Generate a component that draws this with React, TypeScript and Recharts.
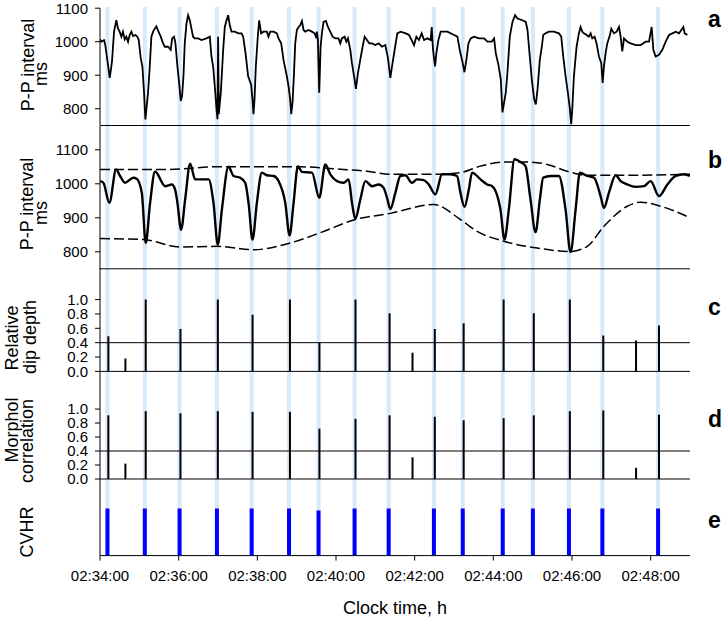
import React from 'react';
import { ComposedChart, Line, Bar, XAxis, YAxis, ReferenceLine } from 'recharts';

// ---------- data (time in seconds after 02:34:00) ----------
const xTicks = [0, 120, 240, 360, 480, 600, 720, 840];

const cvhrTimes = [12, 69, 122, 179, 232, 289, 334, 389, 441, 510, 554, 615, 661, 716, 767, 852];
const cvhrHeight = [1, 1, 1, 1, 1, 1, 0.96, 1, 1, 1, 1, 1, 1, 1, 1, 1];

const eventTimes = [12, 38, 69, 122, 179, 232, 289, 334, 389, 441, 476, 510, 554, 615, 661, 716, 767, 817, 852];
const dipDepth = [0.49, 0.18, 1.0, 0.59, 1.0, 0.79, 1.0, 0.4, 1.0, 0.81, 0.26, 0.59, 0.67, 1.0, 0.81, 1.0, 0.5, 0.43, 0.64];
const morphCorr = [0.91, 0.22, 0.97, 0.94, 0.97, 0.96, 0.96, 0.72, 0.86, 0.91, 0.31, 0.89, 0.84, 0.87, 0.91, 0.97, 0.98, 0.16, 0.92];

const rawT = [
  0, 2, 6.1, 8.1, 12.2, 14.8, 16.3, 18.3, 21.4, 24.9, 27.5, 30, 32.6, 35.1, 37.7, 40.2, 42.8, 45.3, 47.9, 50.4, 54, 57, 59.1,
  62.1, 64.7, 67.2, 69.2, 70.8, 73.3, 75.9, 78.4, 81, 83.5, 86, 88.6, 92.7, 96.2, 98.8, 103.9, 107.9, 110, 113, 115.1, 118.1,
  120.7, 123.2, 125.2, 127.3, 129.3, 131.9, 134.4, 137, 139.5, 142, 144.6, 149.7, 154.8, 162.4, 167.5, 170, 172.6, 175.1, 177.7,
  179.2, 180.2, 181.2, 184.3, 187.9, 190.4, 193, 195.5, 198, 200.6, 205.7, 210.8, 215.9, 218.4, 222, 226,
  230.6, 232.6, 234.1, 235.7, 237.7, 240.7, 242.8, 245.8, 249.4, 254.5, 257, 259.6, 264.7, 269.8, 272.3, 276.4, 279.9, 282.5,
  285, 287.6, 290.1, 291.7, 293.7, 295.7, 297.8, 300.3, 302.9, 305.4, 308, 310.5, 313, 318.1, 323.2, 327.3, 329.3, 330.9, 332.4,
  334.4, 336.5, 338.5, 341, 344.6, 347.7, 351.2, 354.8, 358.9, 363.9, 366.5, 369, 373.1, 375.7, 378.2, 381.8, 384.3, 388.4,
  390.4, 393.5, 397, 400.6, 403.7, 407.2, 410.8, 414.9, 419.9, 425, 430.1, 435.2, 439.3, 442.9, 445.4, 449.5,
  453.5, 458.6, 466.3, 471.4, 475.4, 479, 482.6, 486.6, 490.7, 494.3, 499.4, 504.4, 506, 508, 511.1, 513.1, 516.2, 519.7, 529.9,
  540.1, 545.2, 548.7, 552.8, 555.9, 558.9, 562, 565.5, 570.6, 578.3, 585.9, 591, 597.6, 601.2, 603.7, 607.8, 611.4, 613.9,
  616.4, 619, 621.5, 625.1, 629.2, 633.2, 636.8, 644.4, 649.5, 652.1, 655.6, 658.7, 662.3, 664.8, 667.4, 670.9, 674,
  676.1, 679.6, 684.7, 692.4, 700, 703.6, 706.6, 710.2, 713.7, 716.8, 718.8, 720.4, 722.9, 727, 730.5, 733.1, 735.6, 738.2,
  742.3, 745.8, 748.4, 750.9, 754.5, 757.5, 761.1, 764.7, 766.7, 768.7, 771.3, 773.8, 777.9, 779.9, 784, 788.1, 791.6, 794.2,
  796.7, 799.3, 804.4, 809.5, 817.1, 824.7, 832.4, 837.5, 841.5, 844.1, 847.6, 852.7, 857.8, 862.9, 868, 873.1, 878.2, 883.3,
  889.9, 891.9, 896,
];
const rawV = [
  1007, 1000, 1005, 990, 931, 892, 912, 941, 1030, 1064, 1039, 1030, 1015, 1030, 1007, 1015, 1000, 1020, 1030, 1017, 1020, 1015, 1005,
  951, 926, 848, 768, 799, 848, 926, 1015, 1030, 1039, 1046, 1033, 1015, 995, 985, 985, 976, 1010, 1015, 995, 926,
  877, 823, 838, 897, 995, 1054, 1079, 1064, 1039, 1015, 1010, 1010, 1005, 1010, 1015, 956, 926, 867, 799,
  769, 1015, 784, 848, 976, 1044, 1064, 1079, 1049, 1030, 1030, 1025, 1025, 1015, 966, 897,
  872, 828, 784, 828, 926, 1015, 1064, 1025, 1030, 1030, 1015, 1030, 1030, 1025, 1010, 995, 946, 921,
  897, 867, 828, 784, 818, 897, 995, 1035, 1044, 1049, 1062, 1035, 1030, 1035, 1030, 1025, 1015, 1030, 1005,
  848, 985, 1025, 1059, 1062, 1044, 1030, 1015, 1010, 1010, 995, 1010, 1015, 1000, 1010, 976, 936, 887,
  859, 907, 946, 985, 1015, 1005, 995, 995, 990, 995, 985, 990, 951, 892, 926, 976,
  1025, 1030, 1025, 1020, 1005, 990, 1015, 1005, 1025, 1005, 1010, 1005, 1044, 976, 926, 966, 1005, 1030, 1030,
  1020, 1015, 976, 941, 909, 946, 995, 1010, 1015, 1010, 1010, 1000, 1000, 1010, 966, 931, 887, 789,
  818, 848, 907, 1015, 1059, 1079, 1069, 1064, 1059, 1035, 956, 887, 828, 813, 858, 946, 985,
  1020, 1025, 1030, 1030, 1025, 1015, 956, 897, 848, 799, 754, 799, 897, 985, 1025, 1044, 1030, 1025,
  1020, 1015, 1025, 1010, 1015, 995, 956, 936, 877, 926, 966, 995, 1020, 1039, 1025, 1030, 1044, 1015,
  971, 1010, 1000, 995, 990, 990, 1000, 1000, 1044, 976, 956, 961, 976, 1000, 1020, 1025, 1030, 1025,
  1044, 1025, 1020,
];

const smoothT = [
  0, 5.1, 14.3, 24.5, 30.6, 38.2, 50.9, 56, 63.7, 69.8, 76.4, 84, 99.3, 109.5, 114.6, 118.1, 123.7, 129.9, 137.5, 145.1, 165.5,
  173.1, 179.7, 185.9, 196, 203.7, 213.8, 221.5, 226.6, 232.7, 239.3, 246.9, 254.6, 264.8, 272.4, 282.6, 289.2, 295.3, 301.9,
  308, 323.3, 334.5, 343.7, 351.3, 361.5, 371.7, 379.3, 384.4, 389.5, 397.1, 404.8, 414.9, 425.1, 432.7, 437.8, 442.9, 450.6,
  458.2, 465.8, 476, 483.6, 493.8, 501.5, 511.6, 521.8, 534.6, 544.7, 549.8, 556, 562.6, 567.6, 580.4, 590.6, 598.2, 610.9,
  617, 623.6, 632.3, 641.5, 649.1, 656.7, 664.4, 671, 676.1, 687.3, 700, 710.2, 717.8, 725.5, 732.1, 743.3, 753.5, 763.6,
  768.7, 776.4, 786.6, 794.2, 804.4, 817.1, 829.8, 840, 852.7, 865.5, 878.2, 890.9, 900,
];
const smoothV = [
  1008, 1003, 944, 1042, 1023, 1003, 1018, 1015, 974, 826, 944, 1036, 993, 998, 983, 944, 865, 954, 1059, 1013, 1013,
  944, 821, 924, 1050, 1023, 1018, 1003, 944, 836, 944, 1033, 1025, 1023, 1008, 944, 848, 944, 1052,
  1035, 1033, 959, 1057, 1028, 1008, 1003, 1013, 944, 897, 954, 1008, 993, 998, 988, 959, 926, 974,
  1023, 1025, 1003, 1013, 1011, 998, 969, 1028, 1028, 1023, 974, 932, 983, 1033, 1013, 998, 993, 924,
  836, 924, 1072, 1064, 1052, 954, 858, 954, 1018, 1023, 1023, 924, 799, 924, 1033, 1023, 1018, 964,
  929, 974, 1025, 1008, 998, 991, 993, 1008, 964, 998, 1023, 1028, 1023,
];

const upperT = [0, 101.9, 178.2, 254.6, 305.5, 356.4, 407.3, 442.9, 509.1, 549.8, 580.4, 616, 651.6, 682.2, 712.7, 743.3, 804.4, 900];
const upperV = [1042, 1042, 1050, 1050, 1050, 1044, 1037, 1028, 1028, 1033, 1052, 1064, 1064, 1057, 1037, 1025, 1025, 1028];

const lowerT = [0, 66.2, 122.2, 178.2, 234.2, 290.2, 336, 389.5, 442.9, 509.1, 549.8, 575.3, 616, 666.9, 717.8, 743.3, 768.7, 804.4, 824.7, 855.3, 900];
const lowerV = [839, 836, 814, 816, 806, 826, 856, 895, 913, 939, 895, 860, 831, 811, 801, 816, 875, 934, 946, 934, 900];

const ppTicks = [800, 900, 1000, 1100];
const fracTicks = [0, 0.2, 0.4, 0.6, 0.8, 1.0];
const threshold = 0.4;

// ---------- derived tables ----------
const rawData = rawT.map((t, i) => ({ t, v: rawV[i] }));
const smoothData = smoothT.map((t, i) => ({ t, v: smoothV[i] }));
const upperData = upperT.map((t, i) => ({ t, v: upperV[i] }));
const lowerData = lowerT.map((t, i) => ({ t, v: lowerV[i] }));
const eventData = eventTimes.map((t, i) => ({ t, depth: dipDepth[i], corr: morphCorr[i] }));
const cvhrData = cvhrTimes.map((t, i) => ({ t, c: cvhrHeight[i] }));
// full-height highlight band at each detected CVHR
const bandData = cvhrTimes.map((t) => ({ t, band: 1 }));

const FONT = '"Liberation Sans", Arial, Helvetica, sans-serif';
const BAND = '#D8E9FB';
const W = 726;
const XH = 30;
const RIGHT = 36;

const pad = (n: number) => String(n).padStart(2, '0');
const fmtTime = (t: number) => {
  const total = 2 * 3600 + 34 * 60 + Math.round(t);
  return `${pad(Math.floor(total / 3600))}:${pad(Math.floor((total % 3600) / 60))}:${pad(total % 60)}`;
};

const tickStyle = { fontSize: 15, fill: '#000', fontFamily: FONT };

const xAxis = (showLabels: boolean) => (
  <XAxis
    dataKey="t"
    type="number"
    domain={[0, 900]}
    allowDataOverflow
    ticks={xTicks}
    interval={0}
    height={XH}
    axisLine={{ stroke: '#000', strokeWidth: 1 }}
    tickLine={{ stroke: '#000', strokeWidth: 1 }}
    tickSize={5}
    tickMargin={10}
    tick={showLabels ? tickStyle : false}
    tickFormatter={fmtTime}
  />
);

const yAxis = (domain: number[], ticks: number[] | null, fmt?: (v: number) => string) => (
  <YAxis
    type="number"
    domain={domain}
    allowDataOverflow
    ticks={ticks ?? []}
    interval={0}
    width={100}
    axisLine={{ stroke: '#000', strokeWidth: 1 }}
    tickLine={ticks ? { stroke: '#000', strokeWidth: 1 } : false}
    tickSize={5}
    tickMargin={7}
    tick={ticks ? tickStyle : false}
    tickFormatter={fmt}
  />
);

const Panel: React.FC<{ top: number; plotH: number; mTop?: number; data?: any[]; children: React.ReactNode }> = ({
  top,
  plotH,
  mTop = 0,
  data,
  children,
}) => (
  <div style={{ position: 'absolute', left: 0, top: top - mTop, width: W, height: plotH + XH + mTop }}>
    <ComposedChart width={W} height={plotH + XH + mTop} margin={{ top: mTop, right: RIGHT, bottom: 0, left: 0 }} data={data}>
      {children}
    </ComposedChart>
  </div>
);

// plot spans
const BAND_TOP = 7;
const TOP_A = 8.2;
const BOTTOM_E = 555.3;

export default function App() {
  return (
    <div style={{ position: 'absolute', left: 0, top: 0, width: W, height: 622, background: '#fff', fontFamily: FONT }}>
      {/* background: CVHR bands across all panels */}
      <div style={{ position: 'absolute', left: 0, top: 0, width: W, height: 622 }}>
        <ComposedChart
          width={W}
          height={622}
          margin={{ top: BAND_TOP, right: RIGHT, bottom: 622 - BOTTOM_E, left: 100 }}
          data={bandData}
        >
          <XAxis dataKey="t" type="number" domain={[0, 900]} allowDataOverflow hide />
          <YAxis type="number" domain={[0, 1]} hide />
          <Bar dataKey="band" fill={BAND} barSize={4} isAnimationActive={false} />
        </ComposedChart>
      </div>

      {/* a: raw P-P intervals */}
      <Panel top={TOP_A} plotH={125.5 - TOP_A} mTop={TOP_A}>
        {xAxis(false)}
        {yAxis([750, 1100], ppTicks)}
        <Line data={rawData} dataKey="v" type="linear" stroke="#000" strokeWidth={1.8} dot={false} isAnimationActive={false} />
      </Panel>

      {/* b: smoothed with envelopes */}
      <Panel top={125.5} plotH={142.8}>
        {xAxis(false)}
        {yAxis([750, 1170], ppTicks)}
        <Line data={upperData} dataKey="v" type="monotone" stroke="#000" strokeWidth={1.5} strokeDasharray="10 4" dot={false} isAnimationActive={false} />
        <Line data={lowerData} dataKey="v" type="monotone" stroke="#000" strokeWidth={1.5} strokeDasharray="10 4" dot={false} isAnimationActive={false} />
        <Line data={smoothData} dataKey="v" type="monotone" stroke="#000" strokeWidth={2.4} dot={false} isAnimationActive={false} />
      </Panel>

      {/* c: relative dip depth */}
      <Panel top={268.3} plotH={103.4} data={eventData}>
        {xAxis(false)}
        {yAxis([0, 1.44], fracTicks, (v) => v.toFixed(1))}
        <ReferenceLine y={threshold} stroke="#000" strokeWidth={1} />
        <Bar dataKey="depth" fill="#000" barSize={2} isAnimationActive={false} />
      </Panel>

      {/* d: morphological correlation */}
      <Panel top={371.7} plotH={107} data={eventData}>
        {xAxis(false)}
        {yAxis([0, 1.53], fracTicks, (v) => v.toFixed(1))}
        <ReferenceLine y={threshold} stroke="#000" strokeWidth={1} />
        <Bar dataKey="corr" fill="#000" barSize={2} isAnimationActive={false} />
      </Panel>

      {/* e: CVHR */}
      <Panel top={478.7} plotH={76.6} data={cvhrData}>
        {xAxis(true)}
        {yAxis([0, 1.63], null)}
        <Bar dataKey="c" fill="#0000FF" barSize={4} isAnimationActive={false} />
      </Panel>

      {/* text labels */}
      <svg width={W} height={622} style={{ position: 'absolute', left: 0, top: 0, pointerEvents: 'none' }}>
        <g fontFamily={FONT} fontSize={18} fill="#000" textAnchor="middle">
          <text transform="translate(34,65) rotate(-90)">P-P interval</text>
          <text transform="translate(47,74) rotate(-90)">ms</text>
          <text transform="translate(33,204) rotate(-90)">P-P interval</text>
          <text transform="translate(47,213) rotate(-90)">ms</text>
          <text transform="translate(18,338) rotate(-90)">Relative</text>
          <text transform="translate(36,337) rotate(-90)">dip depth</text>
          <text transform="translate(18,430) rotate(-90)">Morphol</text>
          <text transform="translate(33,441) rotate(-90)">correlation</text>
          <text transform="translate(33,532) rotate(-90)">CVHR</text>
          <text x={395} y={614}>Clock time, h</text>
        </g>
        <g fontFamily={FONT} fontSize={23} fontWeight="bold" fill="#000">
          <text x={708} y={27}>a</text>
          <text x={708} y={168}>b</text>
          <text x={708} y={315}>c</text>
          <text x={708} y={427}>d</text>
          <text x={708} y={528}>e</text>
        </g>
      </svg>
    </div>
  );
}
